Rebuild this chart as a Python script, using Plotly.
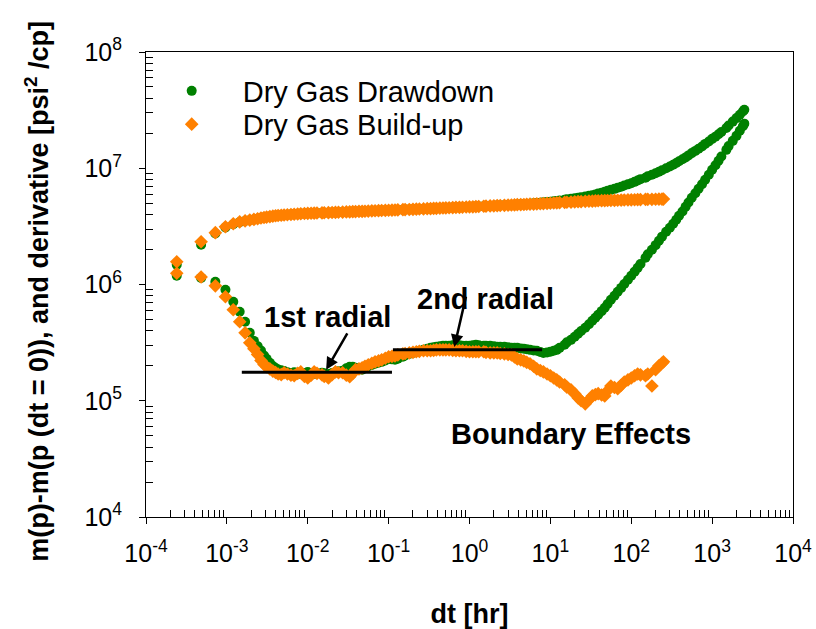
import plotly.graph_objects as go

# ---------------- data ----------------
# elapsed time dt [hr]
t_drawdown = [2.4e-4, 4.8e-4, 7.2e-4, 9.6e-4, 1.2e-3, 1.44e-3, 1.68e-3, 1.92e-3, 2.16e-3, 2.4e-3,
              2.64e-3, 2.88e-3, 3.1e-3, 3.4e-3, 3.7e-3, 4.0e-3, 4.3e-3, 4.7e-3, 5.1e-3, 5.6e-3,
              6.2e-3, 6.8e-3, 7.5e-3, 8.2e-3, 9.1e-3,
              0.010, 0.011, 0.012, 0.013, 0.015, 0.016, 0.018, 0.020, 0.022, 0.024, 0.027, 0.030,
              0.033, 0.036, 0.039, 0.043, 0.047, 0.051, 0.056, 0.062, 0.068, 0.075, 0.082, 0.091,
              0.10, 0.11, 0.12, 0.13, 0.15, 0.16, 0.18, 0.20, 0.22, 0.24, 0.27, 0.30,
              0.33, 0.36, 0.39, 0.43, 0.47, 0.51, 0.56, 0.62, 0.68, 0.75, 0.82, 0.91,
              1.0, 1.1, 1.2, 1.3, 1.5, 1.6, 1.8, 2.0, 2.2, 2.4, 2.7, 3.0,
              3.3, 3.6, 3.9, 4.3, 4.7, 5.1, 5.6, 6.2, 6.8, 7.5, 8.2, 9.1,
              10, 11, 12, 13, 15, 16, 18, 20, 22, 24, 27, 30,
              33, 36, 39, 43, 47, 51, 56, 62, 68, 75, 82, 91,
              100, 110, 120, 130, 150, 160, 180, 200, 220, 240, 270, 300,
              330, 360, 390, 430, 470, 510, 560, 620, 680, 750, 820, 910,
              1000, 1100, 1200, 1300, 1500, 1600, 1800, 2000, 2200, 2400, 2500]

t_buildup = [2.4e-4, 4.8e-4, 7.2e-4, 9.6e-4, 1.2e-3, 1.44e-3, 1.68e-3, 1.92e-3, 2.16e-3, 2.4e-3,
             2.64e-3, 2.88e-3, 3.1e-3, 3.4e-3, 3.7e-3, 4.0e-3, 4.3e-3, 4.7e-3, 5.1e-3, 5.6e-3,
             6.2e-3, 6.8e-3, 7.5e-3, 8.2e-3, 9.1e-3,
             0.010, 0.011, 0.012, 0.013, 0.015, 0.016, 0.018, 0.020, 0.022, 0.024, 0.027, 0.030,
             0.033, 0.036, 0.039, 0.043, 0.047, 0.051, 0.056, 0.062, 0.068, 0.075, 0.082, 0.091,
             0.10, 0.11, 0.12, 0.13, 0.15, 0.16, 0.18, 0.20, 0.22, 0.24, 0.27, 0.30,
             0.33, 0.36, 0.39, 0.43, 0.47, 0.51, 0.56, 0.62, 0.68, 0.75, 0.82, 0.91,
             1.0, 1.1, 1.2, 1.3, 1.5, 1.6, 1.8, 2.0, 2.2, 2.4, 2.7, 3.0,
             3.3, 3.6, 3.9, 4.3, 4.7, 5.1, 5.6, 6.2, 6.8, 7.5, 8.2, 9.1,
             10, 11, 12, 13, 15, 16, 18, 20, 22, 24, 27, 30,
             33, 36, 39, 43, 47, 51, 56, 62, 68, 75, 82, 91,
             100, 110, 120, 130, 150, 160, 180, 200, 220, 240, 250]

# Drawdown: m(p)-m(p(dt=0)) and its derivative [psi^2/cp]
drawdown_dm = [1.48e6, 2.20e6, 2.75e6, 3.10e6, 3.30e6, 3.44e6, 3.52e6, 3.57e6, 3.63e6, 3.68e6,
               3.73e6, 3.77e6, 3.80e6, 3.84e6, 3.87e6, 3.90e6, 3.92e6, 3.94e6, 3.96e6, 3.98e6,
               4.00e6, 4.02e6, 4.04e6, 4.06e6, 4.08e6,
               4.09e6, 4.10e6, 4.11e6, 4.12e6, 4.13e6, 4.14e6, 4.15e6, 4.16e6, 4.17e6, 4.18e6, 4.19e6, 4.21e6,
               4.22e6, 4.23e6, 4.24e6, 4.25e6, 4.26e6, 4.27e6, 4.28e6, 4.30e6, 4.31e6, 4.32e6, 4.33e6, 4.34e6,
               4.35e6, 4.36e6, 4.37e6, 4.38e6, 4.40e6, 4.41e6, 4.42e6, 4.43e6, 4.45e6, 4.46e6, 4.47e6, 4.49e6,
               4.50e6, 4.51e6, 4.52e6, 4.54e6, 4.55e6, 4.56e6, 4.57e6, 4.59e6, 4.60e6, 4.61e6, 4.62e6, 4.64e6,
               4.65e6, 4.66e6, 4.68e6, 4.69e6, 4.71e6, 4.72e6, 4.74e6, 4.75e6, 4.77e6, 4.78e6, 4.80e6, 4.82e6,
               4.84e6, 4.85e6, 4.87e6, 4.89e6, 4.91e6, 4.93e6, 4.96e6, 4.99e6, 5.02e6, 5.05e6, 5.09e6, 5.12e6,
               5.15e6, 5.19e6, 5.24e6, 5.29e6, 5.36e6, 5.41e6, 5.46e6, 5.52e6, 5.58e6, 5.64e6, 5.72e6, 5.79e6,
               5.86e6, 5.95e6, 6.05e6, 6.16e6, 6.28e6, 6.39e6, 6.52e6, 6.65e6, 6.79e6, 6.94e6, 7.10e6, 7.27e6,
               7.43e6, 7.64e6, 7.85e6, 8.06e6, 8.29e6, 8.54e6, 8.80e6, 9.06e6, 9.33e6, 9.62e6, 1.00e7, 1.035e7,
               1.07e7, 1.11e7, 1.15e7, 1.195e7, 1.24e7, 1.29e7, 1.35e7, 1.41e7, 1.47e7, 1.54e7, 1.62e7, 1.70e7,
               1.79e7, 1.87e7, 1.96e7, 2.05e7, 2.22e7, 2.33e7, 2.52e7, 2.70e7, 2.89e7, 3.08e7, 3.19e7]

drawdown_der = [1.19e6, 1.14e6, 1.055e6, 9.0e5, 7.1e5, 5.82e5, 4.78e5, 3.84e5, 3.28e5, 2.95e5,
                2.71e5, 2.45e5, 2.30e5, 2.12e5, 1.99e5, 1.91e5, 1.86e5, 1.83e5, 1.80e5, 1.76e5,
                1.73e5, 1.76e5, 1.74e5, 1.70e5, 1.73e5,
                1.77e5, 1.72e5, 1.70e5, 1.72e5, 1.74e5, 1.72e5, 1.70e5, 1.73e5, 1.77e5, 1.79e5, 1.81e5, 1.90e5,
                1.96e5, 1.96e5, 1.92e5, 1.88e5, 1.85e5, 1.92e5, 1.98e5, 2.03e5, 2.08e5, 2.12e5, 2.16e5, 2.22e5,
                2.29e5, 2.27e5, 2.25e5, 2.30e5, 2.39e5, 2.45e5, 2.53e5, 2.58e5, 2.64e5, 2.69e5, 2.74e5, 2.80e5,
                2.85e5, 2.88e5, 2.91e5, 2.94e5, 2.97e5, 2.97e5, 2.97e5, 3.00e5, 3.03e5, 3.00e5, 2.97e5, 2.97e5,
                2.97e5, 3.00e5, 3.03e5, 3.00e5, 2.97e5, 2.97e5, 2.97e5, 2.94e5, 2.91e5, 2.91e5, 2.91e5, 2.88e5,
                2.85e5, 2.85e5, 2.85e5, 2.82e5, 2.80e5, 2.77e5, 2.74e5, 2.71e5, 2.69e5, 2.63e5, 2.58e5, 2.60e5,
                2.64e5, 2.69e5, 2.74e5, 2.85e5, 3.03e5, 3.18e5, 3.34e5, 3.55e5, 3.77e5, 3.98e5, 4.24e5, 4.55e5,
                4.87e5, 5.18e5, 5.49e5, 5.90e5, 6.30e5, 6.80e5, 7.39e5, 8.00e5, 8.65e5, 9.35e5, 1.01e6, 1.10e6,
                1.19e6, 1.29e6, 1.39e6, 1.50e6, 1.70e6, 1.82e6, 1.99e6, 2.18e6, 2.38e6, 2.58e6, 2.84e6, 3.08e6,
                3.33e6, 3.60e6, 3.90e6, 4.25e6, 4.66e6, 5.08e6, 5.58e6, 6.10e6, 6.66e6, 7.28e6, 7.96e6, 8.80e6,
                9.71e6, 1.06e7, 1.16e7, 1.26e7, 1.44e7, 1.55e7, 1.72e7, 1.90e7, 2.10e7, 2.30e7, 2.42e7]

# Build-up: m(p)-m(p(dt=0)) and its derivative [psi^2/cp]
buildup_dm = [1.57e6, 2.33e6, 2.79e6, 3.14e6, 3.33e6, 3.46e6, 3.53e6, 3.58e6, 3.63e6, 3.68e6,
              3.73e6, 3.77e6, 3.80e6, 3.84e6, 3.87e6, 3.90e6, 3.92e6, 3.94e6, 3.96e6, 3.98e6,
              4.00e6, 4.02e6, 4.04e6, 4.06e6, 4.08e6,
              4.09e6, 4.10e6, 4.11e6, 4.12e6, 4.13e6, 4.14e6, 4.15e6, 4.16e6, 4.17e6, 4.18e6, 4.19e6, 4.21e6,
              4.22e6, 4.23e6, 4.24e6, 4.25e6, 4.26e6, 4.27e6, 4.28e6, 4.30e6, 4.31e6, 4.32e6, 4.33e6, 4.34e6,
              4.35e6, 4.36e6, 4.37e6, 4.38e6, 4.40e6, 4.41e6, 4.42e6, 4.43e6, 4.45e6, 4.46e6, 4.47e6, 4.49e6,
              4.50e6, 4.51e6, 4.52e6, 4.54e6, 4.55e6, 4.56e6, 4.57e6, 4.59e6, 4.60e6, 4.61e6, 4.62e6, 4.64e6,
              4.65e6, 4.66e6, 4.68e6, 4.69e6, 4.71e6, 4.72e6, 4.74e6, 4.75e6, 4.77e6, 4.78e6, 4.80e6, 4.81e6,
              4.83e6, 4.84e6, 4.86e6, 4.87e6, 4.88e6, 4.90e6, 4.91e6, 4.92e6, 4.94e6, 4.95e6, 4.97e6, 4.98e6,
              5.00e6, 5.02e6, 5.04e6, 5.06e6, 5.08e6, 5.10e6, 5.12e6, 5.14e6, 5.16e6, 5.17e6, 5.19e6, 5.21e6,
              5.22e6, 5.24e6, 5.25e6, 5.26e6, 5.27e6, 5.28e6, 5.29e6, 5.30e6, 5.31e6, 5.32e6, 5.33e6, 5.34e6,
              5.35e6, 5.36e6, 5.37e6, 5.38e6, 5.39e6, 5.40e6, 5.40e6, 5.41e6, 5.42e6, 5.43e6, 5.43e6]

buildup_der = [1.25e6, 1.16e6, 9.74e5, 7.84e5, 6.06e5, 4.78e5, 3.84e5, 3.15e5, 2.80e5, 2.50e5,
               2.22e5, 2.05e5, 1.96e5, 1.88e5, 1.80e5, 1.75e5, 1.70e5, 1.68e5, 1.74e5, 1.70e5,
               1.66e5, 1.64e5, 1.72e5, 1.77e5, 1.62e5,
               1.57e5, 1.66e5, 1.77e5, 1.72e5, 1.67e5, 1.62e5, 1.57e5, 1.68e5, 1.77e5, 1.74e5, 1.74e5, 1.66e5,
               1.61e5, 1.72e5, 1.85e5, 1.88e5, 1.92e5, 1.98e5, 2.04e5, 2.10e5, 2.16e5, 2.20e5, 2.25e5, 2.32e5,
               2.39e5, 2.41e5, 2.43e5, 2.48e5, 2.53e5, 2.55e5, 2.58e5, 2.61e5, 2.64e5, 2.66e5, 2.69e5, 2.69e5,
               2.69e5, 2.71e5, 2.74e5, 2.74e5, 2.74e5, 2.74e5, 2.74e5, 2.71e5, 2.69e5, 2.69e5, 2.69e5, 2.66e5,
               2.64e5, 2.64e5, 2.64e5, 2.64e5, 2.64e5, 2.61e5, 2.58e5, 2.58e5, 2.58e5, 2.55e5, 2.53e5, 2.50e5,
               2.48e5, 2.38e5, 2.29e5, 2.25e5, 2.20e5, 2.14e5, 2.08e5, 1.98e5, 1.88e5, 1.82e5, 1.77e5, 1.70e5,
               1.64e5, 1.57e5, 1.51e5, 1.45e5, 1.37e5, 1.31e5, 1.24e5, 1.15e5, 1.06e5, 1.00e5, 9.4e4, 1.02e5,
               1.10e5, 1.13e5, 1.15e5, 1.12e5, 1.10e5, 1.22e5, 1.34e5, 1.30e5, 1.27e5, 1.36e5, 1.45e5, 1.51e5,
               1.57e5, 1.64e5, 1.70e5, 1.67e5, 1.64e5, 1.70e5, 1.34e5, 1.85e5, 2.00e5, 2.10e5, 2.16e5]

assert len(t_drawdown) == len(drawdown_dm) == len(drawdown_der)
assert len(t_buildup) == len(buildup_dm) == len(buildup_der)

# radial-flow stabilisation lines
radial1_x = [1.53e-3, 0.11]
radial1_y = [1.755e5, 1.755e5]
radial2_x = [0.113, 7.9]
radial2_y = [2.74e5, 2.74e5]

x_tick_vals = [1e-4, 1e-3, 1e-2, 1e-1, 1e0, 1e1, 1e2, 1e3, 1e4]
x_tick_text = ["10<sup>-4</sup>", "10<sup>-3</sup>", "10<sup>-2</sup>", "10<sup>-1</sup>",
               "10<sup>0</sup>", "10<sup>1</sup>", "10<sup>2</sup>", "10<sup>3</sup>", "10<sup>4</sup>"]
y_tick_vals = [1e4, 1e5, 1e6, 1e7, 1e8]
y_tick_text = ["10<sup>4</sup>", "10<sup>5</sup>", "10<sup>6</sup>", "10<sup>7</sup>", "10<sup>8</sup>"]

x_title = "dt [hr]"
y_title = "m(p)-m(p (dt = 0)), and derivative [psi<sup>2</sup> /cp]"

# ---------------- styling ----------------
FONT = "Liberation Sans, Arial, sans-serif"
GREEN = "#008000"
ORANGE = "#FF8000"

minor_x = [m * 10.0 ** e for e in range(-4, 4) for m in range(2, 10)]
minor_y = [m * 10.0 ** e for e in range(4, 8) for m in range(2, 10)]

fig = go.Figure()

fig.add_trace(go.Scatter(x=t_drawdown, y=drawdown_dm, mode="markers", name="Dry Gas Drawdown",
                         legend="legend", legendgroup="dd",
                         marker=dict(symbol="circle", size=10, color=GREEN, line=dict(width=0))))
fig.add_trace(go.Scatter(x=t_drawdown, y=drawdown_der, mode="markers", name="Dry Gas Drawdown",
                         legendgroup="dd", showlegend=False,
                         marker=dict(symbol="circle", size=10, color=GREEN, line=dict(width=0))))
fig.add_trace(go.Scatter(x=t_buildup, y=buildup_dm, mode="markers", name="Dry Gas Build-up",
                         legend="legend2", legendgroup="bu",
                         marker=dict(symbol="diamond", size=10.5, color=ORANGE, line=dict(width=0))))
fig.add_trace(go.Scatter(x=t_buildup, y=buildup_der, mode="markers", name="Dry Gas Build-up",
                         legendgroup="bu", showlegend=False,
                         marker=dict(symbol="diamond", size=10.5, color=ORANGE, line=dict(width=0))))

for lx, ly in ((radial1_x, radial1_y), (radial2_x, radial2_y)):
    fig.add_trace(go.Scatter(x=lx, y=ly, mode="lines", showlegend=False, hoverinfo="skip",
                             line=dict(color="black", width=3)))

axis_common = dict(
    type="log", showgrid=False, zeroline=False,
    showline=True, linecolor="black", linewidth=1, mirror=True,
    ticks="outside", ticklen=6, tickwidth=1, tickcolor="black",
    tickmode="array", tickangle=0,
    tickfont=dict(family=FONT, size=25, color="black"),
)

fig.update_xaxes(
    **axis_common, range=[-4, 4], tickvals=x_tick_vals, ticktext=x_tick_text,
    ticklabelstandoff=8,
    minor=dict(tickmode="array", tickvals=minor_x, ticks="inside", ticklen=7,
               tickwidth=1, tickcolor="black", showgrid=False),
    title=dict(text=x_title, standoff=38,
               font=dict(family=FONT, size=27, color="black", weight="bold")),
)
fig.update_yaxes(
    **axis_common, range=[4, 8], tickvals=y_tick_vals, ticktext=y_tick_text,
    ticklabelstandoff=12,
    minor=dict(tickmode="array", tickvals=minor_y, ticks="inside", ticklen=7,
               tickwidth=1, tickcolor="black", showgrid=False),
)

legend_common = dict(xref="container", yref="container", xanchor="left", yanchor="middle",
                     bgcolor="rgba(0,0,0,0)", borderwidth=0, itemwidth=92,
                     font=dict(family=FONT, size=29, color="black"))

fig.update_layout(
    width=816, height=629,
    margin=dict(l=146, r=23, t=52, b=112, autoexpand=False),
    paper_bgcolor="white", plot_bgcolor="white",
    font=dict(family=FONT, color="black"),
    legend=dict(**legend_common, x=(191.7 - 51) / 816, y=1 - 91 / 629),
    legend2=dict(**legend_common, x=(191.7 - 51) / 816, y=1 - 124.3 / 629),
    showlegend=True,
)

# y-axis title (rotated), placed left of the tick labels
fig.add_annotation(xref="paper", yref="paper", x=-0.168, y=0.485, text=y_title,
                   textangle=-90, showarrow=False, xanchor="center", yanchor="middle",
                   font=dict(family=FONT, size=27, color="black", weight="bold"))

label_font = dict(family=FONT, size=29, color="black", weight="bold")
fig.add_annotation(x=-1.760, y=5.7177, xref="x", yref="y", text="1st radial", showarrow=False,
                   font=label_font, xanchor="center", yanchor="middle")
fig.add_annotation(x=0.192, y=5.8769, xref="x", yref="y", text="2nd radial", showarrow=False,
                   font=label_font, xanchor="center", yanchor="middle")
fig.add_annotation(x=1.260, y=4.7151, xref="x", yref="y", text="Boundary Effects", showarrow=False,
                   font=label_font, xanchor="center", yanchor="middle")

arrow_style = dict(xref="x", yref="y", text="", showarrow=True, arrowhead=2, arrowsize=1,
                   arrowwidth=2.5, arrowcolor="black")
fig.add_annotation(x=-1.7723, y=5.2659, ax=22, ay=-38, **arrow_style)
fig.add_annotation(x=-0.1881, y=5.4613, ax=12, ay=-52, **arrow_style)

fig.write_html("out.html")
